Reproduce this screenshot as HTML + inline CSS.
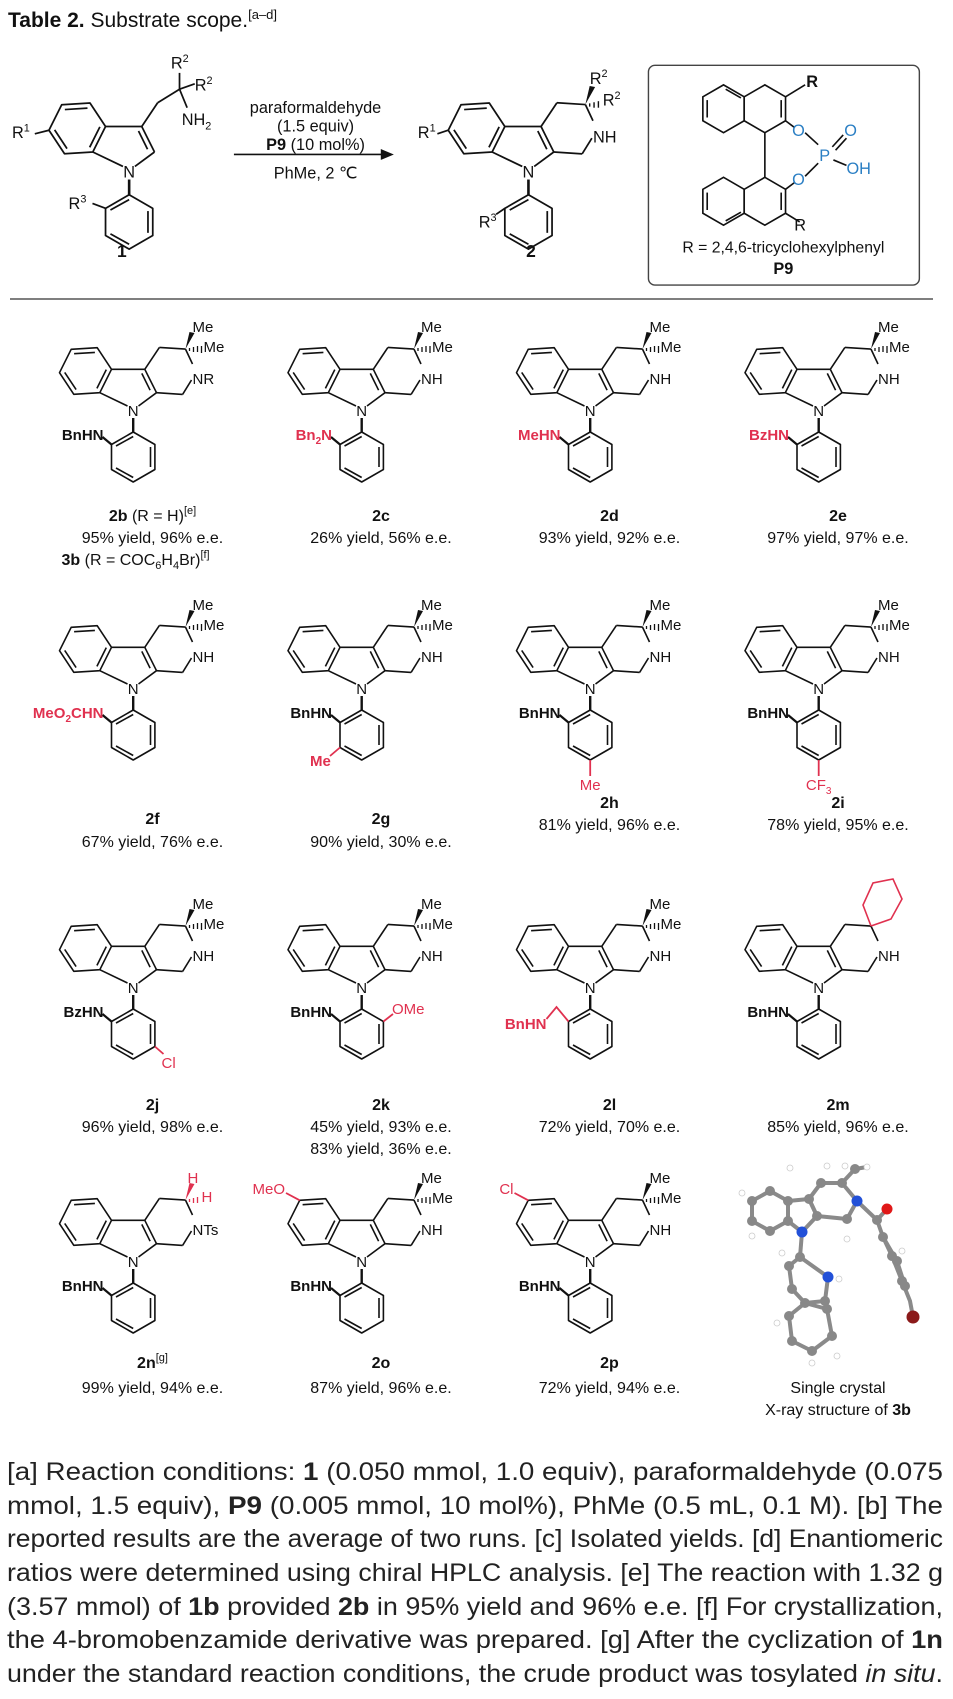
<!DOCTYPE html>
<html><head><meta charset="utf-8"><style>
html,body{margin:0;padding:0;background:#fff}
svg{display:block}
text{font-family:"Liberation Sans",Arial,sans-serif;fill:#111}
.b{font-weight:bold}
.r{fill:#e0314f;font-weight:bold}
.rl{fill:#e0314f}
.lab{font-size:15px}
.num{font-size:16px;font-weight:bold}
.yl{font-size:16px}
.fn{font-size:25px;fill:#222}
.bl{fill:#2b7fc4}
</style></head><body>
<svg width="953" height="1699" viewBox="0 0 953 1699" xmlns="http://www.w3.org/2000/svg">
<defs>
<g id="indole" fill="none" stroke="#111" stroke-width="1.6" stroke-linejoin="round">
  <polygon points="100,89.3 88.3,112.7 62.3,114.3 48,92.7 59.7,69.3 85.7,67.7"/>
  <line x1="62.6" y1="73.7" x2="83.4" y2="72.4"/>
  <line x1="53.2" y1="92.4" x2="64.6" y2="109.6"/>
  <line x1="94.8" y1="89.6" x2="85.4" y2="108.4"/>
  <line x1="100" y1="89.3" x2="133.3" y2="89.3"/>
  <line x1="133.3" y1="89.3" x2="145" y2="112.7"/>
  <line x1="130.3" y1="93.4" x2="138.6" y2="110.2"/>
  <line x1="145" y1="112.7" x2="127" y2="126"/>
  <line x1="88.3" y1="112.7" x2="116" y2="126"/>
  <line x1="121.7" y1="138" x2="121.7" y2="152" stroke-width="2.4"/>
  <polygon points="121.7,152 143.4,164.5 143.4,189.5 121.7,202 100,189.5 100,164.5"/>
  <line x1="139" y1="167" x2="139" y2="187"/>
  <line x1="104.5" y1="188" x2="121.7" y2="197.5"/>
  <line x1="104.5" y1="166" x2="121.7" y2="156.5"/>
</g>
<g id="nlab"><text x="121.7" y="136" text-anchor="middle" class="lab">N</text></g>
<g id="pip" fill="none" stroke="#111" stroke-width="1.6">
  <line x1="133.3" y1="89.3" x2="147.9" y2="67.4"/>
  <line x1="147.9" y1="67.4" x2="174" y2="69.1"/>
  <line x1="174" y1="69.1" x2="181" y2="84"/>
  <line x1="180" y1="100" x2="171.1" y2="114.4"/>
  <line x1="171.1" y1="114.4" x2="145" y2="112.7"/>
</g>
<g id="core"><use href="#indole"/><use href="#nlab"/><use href="#pip"/></g>
<g id="me2">
  <polygon points="174,69 178,52 183,53" fill="#111"/>
  <g stroke="#111" stroke-width="1.3"><line x1="178" y1="68" x2="178" y2="71"/><line x1="182" y1="67" x2="182" y2="72"/><line x1="186" y1="66" x2="186" y2="72"/><line x1="190" y1="66" x2="190" y2="73"/></g>
  <text x="181" y="52" class="lab">Me</text>
  <text x="192" y="72" class="lab">Me</text>
</g>
<g id="nh"><text x="181" y="104" class="lab">NH</text></g>
<g id="sub"><line x1="100" y1="164.5" x2="91" y2="157" stroke="#111" stroke-width="2.2"/></g>
</defs>

<text x="8" y="27" style="font-size:21px"><tspan class="b">Table 2.</tspan> Substrate scope.<tspan style="font-size:13px" dy="-8">[a–d]</tspan></text>

<g transform="scale(1.088)">
  <g transform="translate(-3,27)">
    <use href="#indole"/><use href="#nlab"/>
    <g fill="none" stroke="#111" stroke-width="1.6">
      <line x1="133.3" y1="89.3" x2="147.9" y2="67.4"/>
      <line x1="147.9" y1="67.4" x2="168" y2="55"/>
      <line x1="168" y1="55" x2="168" y2="40"/>
      <line x1="168" y1="55" x2="182" y2="50"/>
      <line x1="168" y1="55" x2="175" y2="72"/>
      <line x1="48" y1="92.7" x2="35" y2="96"/>
      <line x1="100" y1="164.5" x2="88" y2="160"/>
    </g>
    <text x="160" y="36" class="lab">R<tspan dy="-6" font-size="10">2</tspan></text>
    <text x="182" y="56" class="lab">R<tspan dy="-6" font-size="10">2</tspan></text>
    <text x="170" y="88" class="lab">NH<tspan dy="4" font-size="10">2</tspan></text>
    <text x="14" y="100" class="lab">R<tspan dy="-6" font-size="10">1</tspan></text>
    <text x="66" y="165" class="lab">R<tspan dy="-6" font-size="10">3</tspan></text>
  </g>
  <text x="112" y="236" class="num" text-anchor="middle">1</text>
  <line x1="215" y1="142" x2="355" y2="142" stroke="#111" stroke-width="1.5"/>
  <polygon points="362,142 350,137 350,147" fill="#111"/>
  <text x="290" y="104" text-anchor="middle" style="font-size:15px">paraformaldehyde</text>
  <text x="290" y="121" text-anchor="middle" style="font-size:15px">(1.5 equiv)</text>
  <text x="290" y="138" text-anchor="middle" style="font-size:15px"><tspan class="b">P9</tspan> (10 mol%)</text>
  <text x="290" y="164" text-anchor="middle" style="font-size:15px">PhMe, 2 ℃</text>
  <g transform="translate(364,27)">
    <use href="#core"/>
    <polygon points="174,69 178,52 183,53" fill="#111"/>
    <g stroke="#111" stroke-width="1.3"><line x1="178" y1="68" x2="178" y2="71"/><line x1="182" y1="67" x2="182" y2="72"/><line x1="186" y1="66" x2="186" y2="72"/></g>
    <text x="178" y="50" class="lab">R<tspan dy="-6" font-size="10">2</tspan></text>
    <text x="190" y="70" class="lab">R<tspan dy="-6" font-size="10">2</tspan></text>
    <use href="#nh"/>
    <line x1="48" y1="92.7" x2="38" y2="96" stroke="#111" stroke-width="1.6"/>
    <line x1="100" y1="164.5" x2="92" y2="170" stroke="#111" stroke-width="1.6"/>
    <text x="20" y="100" class="lab">R<tspan dy="-6" font-size="10">1</tspan></text>
    <text x="76" y="182" class="lab">R<tspan dy="-6" font-size="10">3</tspan></text>
  </g>
  <text x="488" y="236" class="num" text-anchor="middle">2</text>
  <rect x="596" y="60" width="249" height="202" rx="6" fill="none" stroke="#444" stroke-width="1.3"/>
  <g fill="none" stroke="#111" stroke-width="1.5">
    <polygon points="665,78 684,89 684,111 665,122 646,111 646,89"/>
    <polygon points="703,78 722,89 722,111 703,122 684,111 684,89"/>
    <polygon points="665,163 684,174 684,196 665,207 646,196 646,174"/>
    <polygon points="703,163 722,174 722,196 703,207 684,196 684,174"/>
    <line x1="650" y1="92" x2="650" y2="108"/><line x1="667" y1="82" x2="681" y2="90"/>
    <line x1="718" y1="92" x2="718" y2="108"/><line x1="650" y1="177" x2="650" y2="193"/>
    <line x1="718" y1="177" x2="718" y2="193"/><line x1="667" y1="203" x2="681" y2="195"/>
    <line x1="703" y1="122" x2="703" y2="163"/>
    <line x1="722" y1="89" x2="740" y2="78"/>
    <line x1="722" y1="111" x2="730" y2="117"/>
    <line x1="722" y1="174" x2="730" y2="168"/>
    <line x1="722" y1="196" x2="735" y2="204"/>
    <line x1="740" y1="122" x2="752" y2="133"/>
    <line x1="740" y1="162" x2="752" y2="150"/>
    <line x1="765" y1="135" x2="775" y2="124"/><line x1="768" y1="138" x2="778" y2="127"/>
    <line x1="766" y1="147" x2="778" y2="152"/>
  </g>
  <text x="741" y="80" class="lab b">R</text>
  <text x="728" y="125" class="lab bl">O</text>
  <text x="728" y="170" class="lab bl">O</text>
  <text x="753" y="148" class="lab bl">P</text>
  <text x="776" y="125" class="lab bl">O</text>
  <text x="778" y="160" class="lab bl">OH</text>
  <text x="730" y="212" class="lab">R</text>
  <text x="720" y="232" text-anchor="middle" style="font-size:14.5px">R = 2,4,6-tricyclohexylphenyl</text>
  <text x="720" y="252" text-anchor="middle" class="b" style="font-size:15px">P9</text>
</g>
<line x1="10" y1="299" x2="933" y2="299" stroke="#555" stroke-width="1.5"/>

<!-- ROW 1 -->
<g transform="translate(11.5,280)">
  <use href="#core"/><use href="#me2"/><use href="#sub"/>
  <text x="181" y="104" class="lab">NR</text>
  <text x="92" y="160" text-anchor="end" class="lab b">BnHN</text>
  <text x="141" y="241" text-anchor="middle" class="num">2b <tspan font-weight="normal">(R = H)</tspan><tspan font-size="11" font-weight="normal" dy="-7">[e]</tspan></text>
  <text x="141" y="263" text-anchor="middle" class="yl">95% yield, 96% e.e.</text>
  <text x="50" y="285" class="yl"><tspan class="b">3b</tspan> (R = COC<tspan font-size="11" dy="4">6</tspan><tspan dy="-4">H</tspan><tspan font-size="11" dy="4">4</tspan><tspan dy="-4">Br)</tspan><tspan font-size="11" dy="-7">[f]</tspan></text>
</g>
<g transform="translate(240,280)">
  <use href="#core"/><use href="#me2"/><use href="#nh"/><use href="#sub"/>
  <text x="92" y="160" text-anchor="end" class="lab r">Bn<tspan font-size="10" dy="4">2</tspan><tspan dy="-4">N</tspan></text>
  <text x="141" y="241" text-anchor="middle" class="num">2c</text>
  <text x="141" y="263" text-anchor="middle" class="yl">26% yield, 56% e.e.</text>
</g>
<g transform="translate(468.5,280)">
  <use href="#core"/><use href="#me2"/><use href="#nh"/><use href="#sub"/>
  <text x="92" y="160" text-anchor="end" class="lab r">MeHN</text>
  <text x="141" y="241" text-anchor="middle" class="num">2d</text>
  <text x="141" y="263" text-anchor="middle" class="yl">93% yield, 92% e.e.</text>
</g>
<g transform="translate(697,280)">
  <use href="#core"/><use href="#me2"/><use href="#nh"/><use href="#sub"/>
  <text x="92" y="160" text-anchor="end" class="lab r">BzHN</text>
  <text x="141" y="241" text-anchor="middle" class="num">2e</text>
  <text x="141" y="263" text-anchor="middle" class="yl">97% yield, 97% e.e.</text>
</g>

<!-- ROW 2 -->
<g transform="translate(11.5,558)">
  <use href="#core"/><use href="#me2"/><use href="#nh"/><use href="#sub"/>
  <text x="92" y="160" text-anchor="end" class="lab r">MeO<tspan font-size="10" dy="4">2</tspan><tspan dy="-4">CHN</tspan></text>
  <text x="141" y="266" text-anchor="middle" class="num">2f</text>
  <text x="141" y="289" text-anchor="middle" class="yl">67% yield, 76% e.e.</text>
</g>
<g transform="translate(240,558)">
  <use href="#core"/><use href="#me2"/><use href="#nh"/><use href="#sub"/>
  <text x="92" y="160" text-anchor="end" class="lab b">BnHN</text>
  <line x1="100" y1="189.5" x2="90" y2="198" stroke="#e0314f" stroke-width="1.8"/>
  <text x="70" y="208" class="lab r">Me</text>
  <text x="141" y="266" text-anchor="middle" class="num">2g</text>
  <text x="141" y="289" text-anchor="middle" class="yl">90% yield, 30% e.e.</text>
</g>
<g transform="translate(468.5,558)">
  <use href="#core"/><use href="#me2"/><use href="#nh"/><use href="#sub"/>
  <text x="92" y="160" text-anchor="end" class="lab b">BnHN</text>
  <line x1="121.7" y1="202" x2="121.7" y2="218" stroke="#e0314f" stroke-width="1.8"/>
  <text x="121.7" y="232" text-anchor="middle" class="lab rl">Me</text>
  <text x="141" y="250" text-anchor="middle" class="num">2h</text>
  <text x="141" y="272" text-anchor="middle" class="yl">81% yield, 96% e.e.</text>
</g>
<g transform="translate(697,558)">
  <use href="#core"/><use href="#me2"/><use href="#nh"/><use href="#sub"/>
  <text x="92" y="160" text-anchor="end" class="lab b">BnHN</text>
  <line x1="121.7" y1="202" x2="121.7" y2="218" stroke="#e0314f" stroke-width="1.8"/>
  <text x="121.7" y="232" text-anchor="middle" class="lab rl">CF<tspan font-size="10" dy="4">3</tspan></text>
  <text x="141" y="250" text-anchor="middle" class="num">2i</text>
  <text x="141" y="272" text-anchor="middle" class="yl">78% yield, 95% e.e.</text>
</g>

<!-- ROW 3 -->
<g transform="translate(11.5,857)">
  <use href="#core"/><use href="#me2"/><use href="#nh"/><use href="#sub"/>
  <text x="92" y="160" text-anchor="end" class="lab b">BzHN</text>
  <line x1="143.4" y1="189.5" x2="152" y2="197" stroke="#e0314f" stroke-width="1.8"/>
  <text x="150" y="211" class="lab rl">Cl</text>
  <text x="141" y="253" text-anchor="middle" class="num">2j</text>
  <text x="141" y="275" text-anchor="middle" class="yl">96% yield, 98% e.e.</text>
</g>
<g transform="translate(240,857)">
  <use href="#core"/><use href="#me2"/><use href="#nh"/><use href="#sub"/>
  <text x="92" y="160" text-anchor="end" class="lab b">BnHN</text>
  <line x1="143.4" y1="164.5" x2="153" y2="157" stroke="#e0314f" stroke-width="1.8"/>
  <text x="152" y="157" class="lab rl">OMe</text>
  <text x="141" y="253" text-anchor="middle" class="num">2k</text>
  <text x="141" y="275" text-anchor="middle" class="yl">45% yield, 93% e.e.</text>
  <text x="141" y="297" text-anchor="middle" class="yl">83% yield, 36% e.e.</text>
</g>
<g transform="translate(468.5,857)">
  <use href="#core"/><use href="#me2"/><use href="#nh"/>
  <polyline points="100,164.5 88,150 78,162" fill="none" stroke="#e0314f" stroke-width="1.8"/>
  <text x="78" y="172" text-anchor="end" class="lab r">BnHN</text>
  <text x="141" y="253" text-anchor="middle" class="num">2l</text>
  <text x="141" y="275" text-anchor="middle" class="yl">72% yield, 70% e.e.</text>
</g>
<g transform="translate(697,857)">
  <use href="#core"/><use href="#nh"/><use href="#sub"/>
  <polyline points="174,69 166,48 176,26 196,22 205,42 194,62 174,69" fill="none" stroke="#e0314f" stroke-width="1.6"/>
  <text x="92" y="160" text-anchor="end" class="lab b">BnHN</text>
  <text x="141" y="253" text-anchor="middle" class="num">2m</text>
  <text x="141" y="275" text-anchor="middle" class="yl">85% yield, 96% e.e.</text>
</g>

<!-- ROW 4 -->
<g transform="translate(11.5,1131)">
  <use href="#core"/><use href="#sub"/>
  <polygon points="174,69 178,52 183,53" fill="#e0314f"/>
  <g stroke="#e0314f" stroke-width="1.3"><line x1="178" y1="68" x2="178" y2="71"/><line x1="182" y1="67" x2="182" y2="72"/><line x1="186" y1="66" x2="186" y2="72"/></g>
  <text x="176" y="52" class="lab rl">H</text>
  <text x="190" y="71" class="lab rl">H</text>
  <text x="181" y="104" class="lab">NTs</text>
  <text x="92" y="160" text-anchor="end" class="lab b">BnHN</text>
  <text x="141" y="237" text-anchor="middle" class="num">2n<tspan font-size="11" font-weight="normal" dy="-7">[g]</tspan></text>
  <text x="141" y="262" text-anchor="middle" class="yl">99% yield, 94% e.e.</text>
</g>
<g transform="translate(240,1131)">
  <use href="#core"/><use href="#me2"/><use href="#nh"/><use href="#sub"/>
  <line x1="59.7" y1="69.3" x2="46" y2="62" stroke="#e0314f" stroke-width="1.8"/>
  <text x="45" y="63" text-anchor="end" class="lab rl">MeO</text>
  <text x="92" y="160" text-anchor="end" class="lab b">BnHN</text>
  <text x="141" y="237" text-anchor="middle" class="num">2o</text>
  <text x="141" y="262" text-anchor="middle" class="yl">87% yield, 96% e.e.</text>
</g>
<g transform="translate(468.5,1131)">
  <use href="#core"/><use href="#me2"/><use href="#nh"/><use href="#sub"/>
  <line x1="59.7" y1="69.3" x2="46" y2="62" stroke="#e0314f" stroke-width="1.8"/>
  <text x="45" y="63" text-anchor="end" class="lab rl">Cl</text>
  <text x="92" y="160" text-anchor="end" class="lab b">BnHN</text>
  <text x="141" y="237" text-anchor="middle" class="num">2p</text>
  <text x="141" y="262" text-anchor="middle" class="yl">72% yield, 94% e.e.</text>
</g>
<g transform="translate(697,1131)">
  <g stroke="#8a8a8a" stroke-width="4" fill="none" stroke-linejoin="round">
    <polygon points="55,70 73,60 91,70 91,90 73,100 55,90"/>
    <polyline points="91,70 112,68 120,85 105,101 91,90"/>
    <polygon points="112,68 124,52 145,52 160,70 150,88 120,85"/>
    <line x1="145" y1="52" x2="158" y2="38"/>
    <line x1="158" y1="38" x2="170" y2="36"/>
    <line x1="160" y1="70" x2="180" y2="89"/>
    <line x1="180" y1="89" x2="190" y2="78"/>
    <polyline points="180,89 186,106 195,125 205,150 213,170 216,186"/>
    <polyline points="186,106 200,130 208,155"/>
    <line x1="105" y1="101" x2="103" y2="126"/>
    <polygon points="103,126 131,146 128,170 108,172 95,158 92,135"/>
    <polygon points="108,172 130,178 135,205 115,220 95,210 92,185"/>
  </g>
  <g fill="#888">
    <circle cx="55" cy="70" r="5"/><circle cx="73" cy="60" r="5"/><circle cx="91" cy="70" r="5"/><circle cx="91" cy="90" r="5"/><circle cx="73" cy="100" r="5"/><circle cx="55" cy="90" r="5"/>
    <circle cx="112" cy="68" r="5"/><circle cx="120" cy="85" r="5"/><circle cx="124" cy="52" r="5"/><circle cx="145" cy="52" r="5"/><circle cx="150" cy="88" r="5"/><circle cx="158" cy="38" r="5"/>
    <circle cx="180" cy="89" r="5"/><circle cx="186" cy="106" r="5"/><circle cx="195" cy="125" r="5"/><circle cx="205" cy="150" r="5"/><circle cx="200" cy="130" r="5"/><circle cx="208" cy="155" r="5"/>
    <circle cx="103" cy="126" r="5"/><circle cx="128" cy="170" r="5"/><circle cx="108" cy="172" r="5"/><circle cx="95" cy="158" r="5"/><circle cx="92" cy="135" r="5"/>
    <circle cx="130" cy="178" r="5"/><circle cx="135" cy="205" r="5"/><circle cx="115" cy="220" r="5"/><circle cx="95" cy="210" r="5"/><circle cx="92" cy="185" r="5"/>
  </g>
  <g fill="#fff" stroke="#ccc" stroke-width="0.8">
    <circle cx="93" cy="37" r="3"/><circle cx="45" cy="62" r="3"/><circle cx="55" cy="105" r="3"/><circle cx="148" cy="35" r="3"/><circle cx="170" cy="36" r="3"/><circle cx="150" cy="108" r="3"/>
    <circle cx="142" cy="148" r="3"/><circle cx="85" cy="122" r="3"/><circle cx="80" cy="192" r="3"/><circle cx="140" cy="225" r="3"/><circle cx="115" cy="232" r="3"/><circle cx="205" cy="120" r="3"/><circle cx="130" cy="35" r="3"/>
  </g>
  <circle cx="105" cy="101" r="5.5" fill="#2250d8"/>
  <circle cx="131" cy="146" r="5.5" fill="#2250d8"/>
  <circle cx="160" cy="70" r="5.5" fill="#2250d8"/>
  <circle cx="190" cy="78" r="5.5" fill="#e01818"/>
  <circle cx="216" cy="186" r="6.5" fill="#8b1a1a"/>
  <text x="141" y="262" text-anchor="middle" class="yl">Single crystal</text>
  <text x="141" y="284" text-anchor="middle" class="yl">X-ray structure of <tspan class="b">3b</tspan></text>
</g>

<text class="fn" x="7" y="1480" textLength="936" lengthAdjust="spacingAndGlyphs">[a] Reaction conditions: <tspan class="b">1</tspan> (0.050 mmol, 1.0 equiv), paraformaldehyde (0.075</text>
<text class="fn" x="7" y="1514" textLength="936" lengthAdjust="spacingAndGlyphs">mmol, 1.5 equiv), <tspan class="b">P9</tspan> (0.005 mmol, 10 mol%), PhMe (0.5 mL, 0.1 M). [b] The</text>
<text class="fn" x="7" y="1547" textLength="936" lengthAdjust="spacingAndGlyphs">reported results are the average of two runs. [c] Isolated yields. [d] Enantiomeric</text>
<text class="fn" x="7" y="1581" textLength="936" lengthAdjust="spacingAndGlyphs">ratios were determined using chiral HPLC analysis. [e] The reaction with 1.32 g</text>
<text class="fn" x="7" y="1615" textLength="936" lengthAdjust="spacingAndGlyphs">(3.57 mmol) of <tspan class="b">1b</tspan> provided <tspan class="b">2b</tspan> in 95% yield and 96% e.e. [f] For crystallization,</text>
<text class="fn" x="7" y="1648" textLength="936" lengthAdjust="spacingAndGlyphs">the 4-bromobenzamide derivative was prepared. [g] After the cyclization of <tspan class="b">1n</tspan></text>
<text class="fn" x="7" y="1682" textLength="936" lengthAdjust="spacingAndGlyphs">under the standard reaction conditions, the crude product was tosylated <tspan font-style="italic">in situ</tspan>.</text>
</svg>
</body></html>
